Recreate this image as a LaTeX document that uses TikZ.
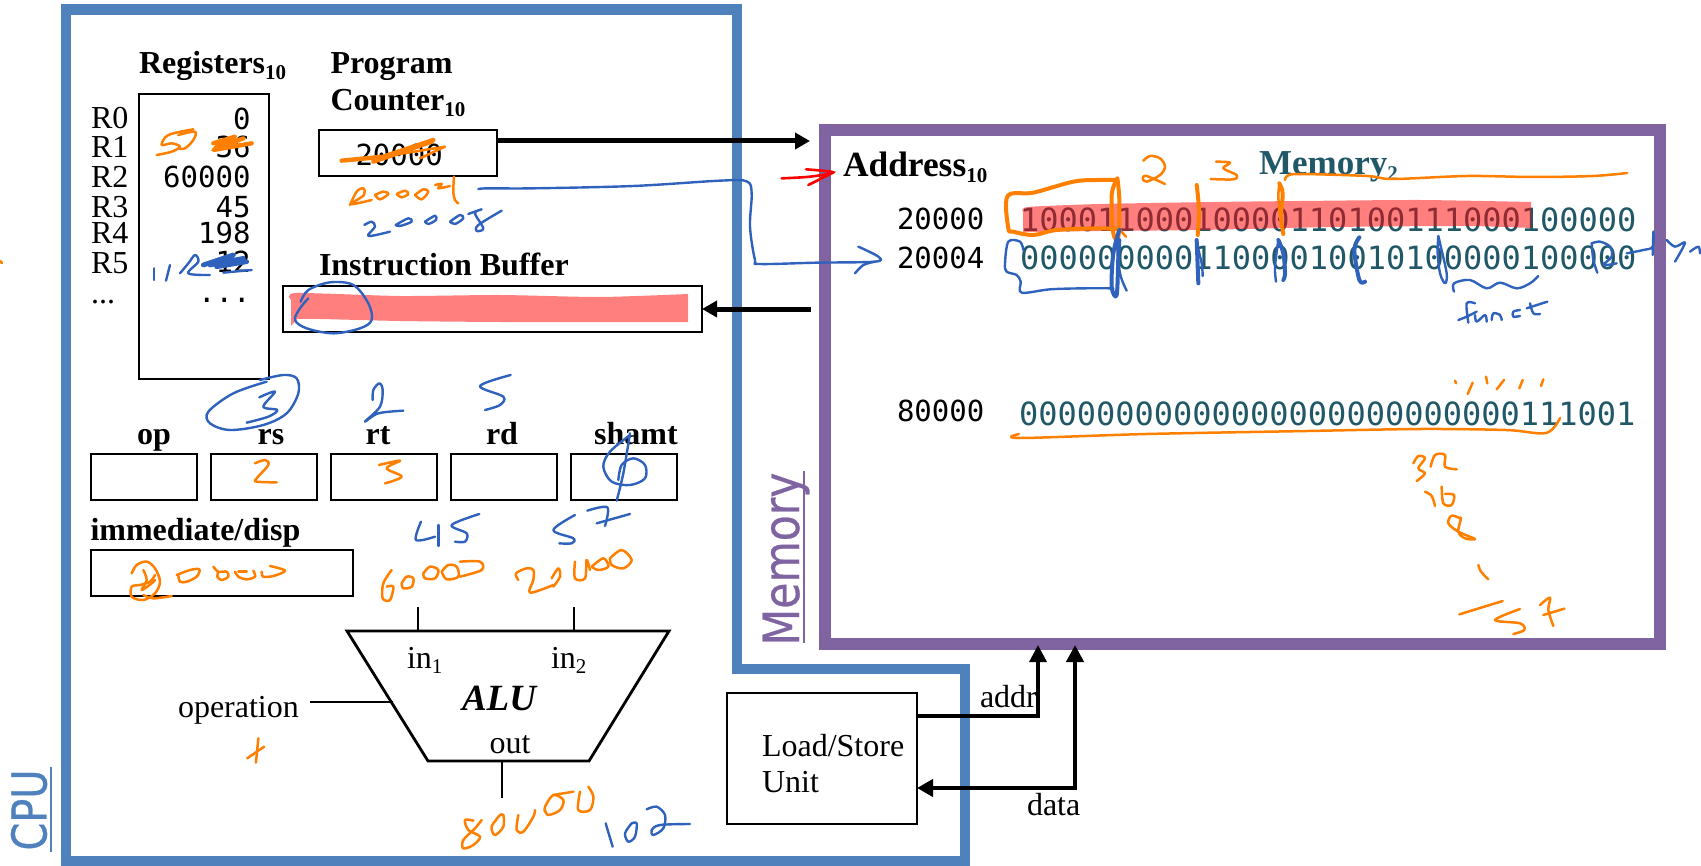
\documentclass[tikz,border=0pt]{standalone}
\usepackage{fontspec}
\usetikzlibrary{arrows.meta}
\setmainfont{Liberation Serif}
\setmonofont{DejaVu Sans Mono}
\setsansfont{DejaVu Sans}
\definecolor{cpublue}{HTML}{4F81BD}
\definecolor{mempurple}{HTML}{8064A2}
\definecolor{memteal}{HTML}{215868}
\definecolor{inkorange}{HTML}{FF7F00}
\definecolor{inkblue}{HTML}{2F62BC}
\newcommand{\subs}[1]{\raisebox{-0.35ex}{\fontsize{10.5}{12}\selectfont #1}}
\newcommand{\ink}[2]{\draw[#1] plot[smooth,tension=0.55] coordinates {#2};}
\tikzset{
  x=0.5pt,y=-0.5pt,
  frameline/.style={line width=5.2pt,line join=miter},
  box/.style={draw=black,line width=1.25pt,inner sep=0pt,outer sep=0pt,fill=none},
  txt/.style={inner sep=0pt,outer sep=0pt,font=\fontsize{16}{18}\selectfont,anchor=base west},
  head/.style={txt,font=\fontsize{16}{18}\selectfont\bfseries},
  headc/.style={head,anchor=base},
  addr/.style={inner sep=0pt,outer sep=0pt,font=\fontsize{14.5}{16}\selectfont\ttfamily,anchor=base west},
  regval/.style={addr,anchor=base east},
  bits/.style={inner sep=0pt,outer sep=0pt,text=memteal,font=\fontsize{16}{18}\selectfont\ttfamily,anchor=base west},
  bigarrow/.style={line width=2.5pt,-{Triangle[length=7.5pt,width=8pt]}},
  oi/.style={draw=inkorange,line width=1.25pt,line cap=round,line join=round},
  bi/.style={draw=inkblue,line width=1.2pt,line cap=round,line join=round},
  oit/.style={oi,line width=2pt},
  bit/.style={bi,line width=2pt},
  zoomed/.style={shift={#1},scale=1/3}
}
\begin{document}
\begin{tikzpicture}
\useasboundingbox (0,0) rectangle (1701,866);
% frames
\draw[frameline,draw=cpublue] (66,9.5) -- (737,9.5) -- (737,669) -- (965,669) -- (965,861) -- (66,861) -- cycle;
\draw[frameline,draw=mempurple,line width=5.8pt] (825,130) rectangle (1660,644);
\node[rotate=90,inner sep=0pt,outer sep=0pt,text=cpublue,font=\fontsize{24}{26}\selectfont\sffamily\addfontfeature{FakeBold=0.6}] (cpulabel) at (29,810) {\scalebox{0.83}[1]{CPU}};
\draw[cpublue,line width=0.8pt] (51,767) -- (51,852);
\node[rotate=90,inner sep=0pt,outer sep=0pt,text=mempurple,font=\fontsize{25}{27}\selectfont\sffamily\addfontfeature{FakeBold=0.6},anchor=base] (memlabel) at (799,559) {\scalebox{0.85}[1]{Memory}};
\draw[mempurple,line width=0.8pt] (804,471) -- (804,643);
% registers
\node[head] (regtitle) at (139,74) {Registers\subs{10}};
\node[box,minimum width=65pt,minimum height=142.5pt] (regs) at (204,236.5) {};
\node[txt] (r0) at (91,129) {R0};
\node[txt] (r1) at (91,158) {R1};
\node[txt] (r2) at (91,188) {R2};
\node[txt] (r3) at (91,218) {R3};
\node[txt] (r4) at (91,243) {R4};
\node[txt] (r5) at (91,273) {R5};
\node[txt] (rd) at (91,303) {...};
\node[regval] (v0) at (250.5,130) {0};
\node[regval] (v1) at (250.5,158) {36};
\node[regval] (v2) at (250.5,188) {60000};
\node[regval] (v3) at (250.5,218) {45};
\node[regval] (v4) at (250.5,243) {198};
\node[regval] (v5) at (250.5,272) {12};
\node[regval] (vd) at (250.5,302) {...};
% program counter
\node[head,font=\fontsize{16}{18.5}\selectfont\bfseries,anchor=north west,align=left] (pctitle) at (330.5,53) {Program\\Counter\subs{10}};
\node[box,minimum width=89pt,minimum height=23pt] (pc) at (408,153) {};
\node[addr] (pcval) at (355.5,166) {20000};
\coordinate (pcout) at (497,141);
\coordinate (memin) at (810,141);
\draw[bigarrow] (pcout) -- (memin);
% instruction buffer
\node[head] (ibtitle) at (319,276) {Instruction Buffer};
\node[box,minimum width=209.5pt,minimum height=23pt] (ib) at (492.5,309) {};
\coordinate (memout) at (811,309);
\draw[bigarrow] (memout) -- (ib.east);
\fill[red,opacity=0.5] plot[smooth,tension=0.4] coordinates {(291,300)(296,293)(400,296)(500,295)(600,297)(688,294)} -- (688,322) -- plot[smooth,tension=0.4] coordinates {(688,322)(610,322)(500,322)(400,321)(320,319)(297,319)} -- (291,326) -- cycle;
% fields
\node[headc] (oplab) at (154,444) {op};
\node[headc] (rslab) at (271,444) {rs};
\node[headc] (rtlab) at (378,444) {rt};
\node[headc] (rdlab) at (502,444) {rd};
\node[headc] (shlab) at (636,444) {shamt};
\node[box,minimum width=53pt,minimum height=23pt] (op) at (144,477) {};
\node[box,minimum width=53pt,minimum height=23pt] (rs) at (264,477) {};
\node[box,minimum width=53pt,minimum height=23pt] (rt) at (384,477) {};
\node[box,minimum width=53pt,minimum height=23pt] (rdbox) at (504,477) {};
\node[box,minimum width=53pt,minimum height=23pt] (sh) at (624,477) {};
\node[head] (immlab) at (90.5,540) {immediate/disp};
\node[box,minimum width=131pt,minimum height=23pt] (imm) at (222,573) {};
% ALU
\draw[box,line width=1.4pt,line join=miter] (347,631) coordinate (alutl) -- (669,631) coordinate (alutr) -- (589,761) coordinate (alubr) -- (428,761) coordinate (alubl) -- cycle;
\coordinate (ina) at (418,607); \coordinate (inaa) at (418,631);
\coordinate (inb) at (574,607); \coordinate (inbb) at (574,631);
\coordinate (outa) at (502,761); \coordinate (outb) at (502,798);
\coordinate (opa) at (310,702); \coordinate (opb) at (393,702);
\draw[line width=1.2pt] (ina) -- (inaa);
\draw[line width=1.2pt] (inb) -- (inbb);
\draw[line width=1.2pt] (outa) -- (outb);
\draw[line width=1.4pt] (opa) -- (opb);
\node[txt] (in1) at (407,668) {in\subs{1}};
\node[txt] (in2) at (551,668) {in\subs{2}};
\node[txt,anchor=base,font=\fontsize{18.5}{20}\selectfont\bfseries\itshape] (alu) at (499,710) {ALU};
\node[txt,anchor=base] (outlab) at (510,753) {out};
\node[txt] (oplabel) at (178,717) {operation};
% memory texts
\node[txt,font=\fontsize{17.7}{20}\selectfont\bfseries] (addrt) at (843,177) {Address\subs{10}};
\node[txt,font=\fontsize{17.5}{20}\selectfont\bfseries,text=memteal] (memt) at (1259,175) {Memory\subs{2}};
\node[addr] (a1) at (897,230) {20000};
\node[addr] (a2) at (897,269) {20004};
\node[addr] (a3) at (897,421) {80000};
\node[bits] (m1) at (1020,232) {10001100010000110100111000100000};
\node[bits] (m2) at (1020,270) {00000000011000010010100000100000};
\node[bits] (m3) at (1019,425) {00000000000000000000000000111001};
\fill[red,opacity=0.5] plot[smooth,tension=0.4] coordinates {(1023,212)(1028,207)(1100,204)(1213,202)(1300,201)(1420,200)(1531,202)} -- (1531,228) -- plot[smooth,tension=0.4] coordinates {(1531,228)(1467,226)(1333,227)(1200,230)(1100,231)(1023,232)} -- cycle;
% load store
\node[box,line width=1pt,minimum width=95pt,minimum height=65.5pt] (lsu) at (822,758.5) {};
\node[txt,anchor=north west,align=left] (lsut) at (762,734) {Load/Store\\Unit};
\coordinate (addrtip) at (1038,645);
\coordinate (datatip) at (1075,645);
\draw[line width=1.6pt,-{Triangle[length=8.5pt,width=8.5pt]},line join=miter] (lsu.east |- 0,716) -- (1038,716) -- (addrtip);
\draw[line width=2.2pt,{Triangle[length=8pt,width=8.5pt]}-{Triangle[length=8.5pt,width=8.5pt]},line join=miter] (lsu.east |- 0,788) -- (1075,788) -- (datatip);
\node[txt] (addrl) at (980,707) {addr};
\node[txt] (datal) at (1027,815) {data};
% ---------- handwriting ----------
\ink{oi}{(0,261)(2,263)}
\begin{scope}[zoomed={(130,120)}]
 \ink{oi}{(80,105)(125,95)(150,80)(125,70)(95,75)(115,45)(190,28)}
 \ink{oi}{(145,45)(195,35)(190,60)(165,85)(145,85)}
 \draw[oit,line width=2.2pt] (250,70) -- (315,50) -- (255,85) -- (340,55) -- (250,90) -- (365,70);
 \draw[oit,line width=2.2pt] (635,122) -- (760,110) -- (910,60) -- (730,125) -- (905,65);
 \draw[oi] (760,110) -- (945,80) -- (870,115);
 \ink{oi}{(660,255)(680,215)(700,205)(702,225)(665,252)(725,240)}
 \ink{oi}{(735,225)(760,215)(775,222)(750,238)(735,225)}
 \ink{oi}{(800,222)(825,212)(835,222)(815,232)(800,222)}
 \ink{oi}{(855,225)(880,208)(895,215)(875,238)(855,225)}
 \ink{oi}{(915,195)(935,192)(925,205)(960,198)}
 \ink{oi}{(972,170)(970,215)(975,240)(985,250)}
 \ink{bi}{(703,315)(725,305)(735,320)(715,348)(780,335)}
 \ink{bi}{(797,315)(835,295)(845,305)(810,318)(797,315)}
 \ink{bi}{(885,305)(915,287)(918,300)(895,312)(885,305)}
 \ink{bi}{(960,305)(990,285)(1000,295)(975,312)(960,305)}
 \ink{bi}{(1015,282)(1055,268)(1035,280)(1060,325)(1040,333)(1045,315)(1115,272)}
 \ink{bi}{(72,445)(72,480)}
 \ink{bi}{(120,435)(108,482)}
 \ink{bi}{(150,460)(175,430)(195,405)(205,425)(175,460)(240,465)}
 \draw[bit,line width=2.4pt] (220,435) -- (310,405) -- (240,435) -- (340,415) -- (260,440) -- (350,425);
 \draw[bi] (280,458) -- (365,450);
 \ink{bi}{(512,545)(535,510)(600,487)(670,495)(715,550)(725,600)(690,625)(610,640)(530,625)(495,600)(510,565)(535,535)}
\end{scope}
\begin{scope}[zoomed={(400,120)}]
 \ink{bi}{(235,207)(265,205)(400,205)(700,198)(960,182)(1040,184)(1055,220)(1050,320)(1065,420)(1080,432)(1250,428)(1425,425)(1435,410)(1375,380)}
 \ink{bi}{(1425,425)(1390,435)(1365,460)}
 \ink{draw=red,line width=1.3pt,line cap=round}{(1145,175)(1230,170)(1300,157)(1218,148)}
 \ink{draw=red,line width=1.3pt,line cap=round}{(1300,157)(1265,175)(1225,195)}
\end{scope}
\begin{scope}[zoomed={(190,370)}]
 \ink{bi}{(230,35)(130,70)(55,125)(60,160)(120,180)(220,165)(290,130)(325,70)(320,25)(280,15)(210,30)}
 \ink{bi}{(208,82)(255,65)(220,110)(262,120)(235,140)(170,158)}
 \ink{bi}{(548,90)(550,60)(568,40)(578,60)(570,110)(525,155)(565,130)(640,122)}
 \ink{bi}{(962,15)(870,48)(940,80)(930,105)(885,120)}
 \ink{oi}{(195,280)(225,270)(235,285)(200,325)(200,335)(260,337)}
 \ink{oi}{(567,285)(630,272)(590,295)(635,320)(585,340)}
 \ink{bi}{(1320,195)(1260,245)(1240,290)(1265,335)(1320,345)(1365,325)(1365,285)(1330,265)(1295,285)(1285,330)}
 \ink{bi}{(1320,190)(1300,310)(1280,392)}
 \ink{bi}{(693,455)(678,510)(735,500)}
 \ink{bi}{(745,465)(745,528)}
 \ink{bi}{(868,432)(785,465)(830,490)(825,515)(795,515)}
 \ink{bi}{(1155,435)(1090,480)(1150,505)(1145,520)(1108,520)}
 \ink{bi}{(1192,422)(1252,412)(1245,468)}
 \ink{bi}{(1220,460)(1320,432)}
 \ink{oi}{(605,600)(580,640)(578,685)(600,690)(610,650)(590,650)}
 \ink{oi}{(635,640)(650,620)(670,625)(665,650)(640,655)(635,640)}
 \ink{oi}{(700,610)(720,590)(745,600)(735,625)(705,625)(700,610)}
 \ink{oi}{(755,605)(775,585)(800,590)(805,620)(770,628)(755,605)}
 \ink{oi}{(810,575)(870,575)(875,600)(810,620)}
 \ink{oi}{(985,630)(978,610)(1010,595)(1030,600)(1030,630)(1020,668)(1090,645)}
 \ink{oi}{(1085,625)(1105,595)(1110,620)(1090,650)}
 \ink{oi}{(1155,575)(1155,625)(1185,625)(1190,570)(1200,600)}
 \ink{oi}{(1205,590)(1240,565)(1255,590)(1225,600)(1205,590)}
 \ink{oi}{(1260,565)(1295,540)(1325,570)(1300,595)(1265,585)(1260,565)}
\end{scope}
\begin{scope}[zoomed={(110,540)}]
 \ink{oi}{(65,100)(80,75)(110,65)(135,85)(150,125)(135,160)(100,180)(65,170)(65,140)(90,135)(120,125)(135,105)}
 \ink{oi}{(100,90)(110,120)(95,150)(125,130)(135,120)}
 \ink{oi}{(100,165)(130,175)(185,168)}
 \ink{oi}{(200,105)(240,90)(268,88)(260,110)(230,125)(210,125)(205,105)}
 \ink{oi}{(310,80)(325,95)(350,95)(355,110)(335,120)(322,110)(325,95)}
 \ink{oi}{(375,95)(385,110)(410,118)(435,110)(430,92)}
 \ink{oi}{(385,95)(410,95)}
 \ink{oi}{(455,95)(460,110)(490,108)(525,92)(480,78)}
\end{scope}
\begin{scope}[shift={(0,370)},xscale=0.4847,yscale=1/3]
 \ink{oi}{(510,1165)(545,1130)}
 \ink{oi}{(533,1105)(528,1178)}
\end{scope}
\begin{scope}[zoomed={(420,780)}]
 \ink{oi}{(160,122)(135,120)(145,150)(180,170)(160,195)(130,205)(130,180)(165,145)(185,120)}
 \ink{oi}{(240,105)(215,140)(225,165)(250,140)(250,105)(240,105)}
 \ink{oi}{(295,105)(290,150)(310,155)(340,110)(345,90)}
 \ink{oi}{(375,90)(385,105)(420,90)(430,60)(400,45)(375,80)(375,95)}
 \ink{oi}{(400,45)(460,35)}
 \ink{oi}{(480,35)(475,90)(510,90)(520,50)(505,20)}
 \ink{bi}{(557,130)(578,200)}
 \ink{bi}{(635,130)(615,160)(625,185)(645,170)(650,130)(635,130)}
 \ink{bi}{(680,88)(710,80)(735,105)(730,145)(700,165)(695,150)(720,135)(810,132)}
\end{scope}
\begin{scope}[zoomed={(1380,370)}]
 \ink{oi}{(225,32)(228,40)}
 \ink{oi}{(278,38)(263,72)}
 \ink{oi}{(318,20)(322,40)}
 \ink{oi}{(372,30)(350,58)}
 \ink{oi}{(428,30)(418,55)}
 \ink{oi}{(490,28)(483,48)}
 \ink{oi}{(100,280)(115,258)(135,265)(115,295)(135,310)(110,333)}
 \ink{oi}{(152,290)(165,255)(195,255)(195,290)(230,298)}
 \ink{oi}{(135,365)(155,378)(165,408)}
 \ink{oi}{(185,350)(190,400)(215,405)(222,375)(195,372)}
 \ink{oi}{(240,445)(215,437)(205,460)(235,485)(285,507)(255,505)(235,485)(243,445)(240,445)}
 \ink{oi}{(295,585)(303,605)(325,628)}
 \ink{oi}{(238,733)(368,693)}
 \ink{oi}{(420,717)(345,750)(420,760)(433,780)(400,792)}
 \ink{oi}{(480,705)(510,683)(505,720)(520,768)}
 \ink{oi}{(490,735)(553,716)}
\end{scope}
\ink{oi}{(1019,434)(1020,438)(1147,434)(1307,431)(1420,429)(1506,430)(1546,433)(1560,418)}
\ink{oi}{(1285,180)(1287,176)(1300,174)(1367,176)(1393,179)(1467,176)(1533,177)(1593,176)(1627,173)}
\begin{scope}[zoomed={(1000,140)}]
 \ink{oit}{(352,120)(290,120)(220,125)(100,158)(23,168)(25,265)(40,275)(100,285)(170,270)(300,265)(350,268)}
 \ink{oit}{(352,115)(335,165)(340,280)(355,290)(358,180)(352,115)}
 \ink{oi}{(360,270)(378,290)}
 \ink{oit}{(590,135)(597,210)(593,285)}
 \ink{oit}{(838,130)(848,160)(843,230)(850,282)}
 \ink{oi}{(838,130)(835,170)(840,230)}
 \ink{oi}{(430,62)(450,48)(480,55)(495,80)(480,105)(440,125)(428,115)(440,108)(495,132)}
 \ink{oi}{(648,65)(690,68)(670,85)(710,105)(700,118)(632,117)}
 \ink{bi}{(340,445)(250,445)(150,448)(65,458)(62,425)(50,405)(20,395)(15,370)(25,305)(60,305)(70,330)}
 \ink{bit}{(358,270)(340,340)(335,440)(350,465)(355,350)(358,300)}
 \ink{bi}{(350,300)(360,400)(380,452)}
 \ink{bit}{(590,300)(595,430)}
 \ink{bi}{(590,310)(605,370)(608,408)}
 \ink{bi}{(835,300)(825,380)(828,425)}
 \ink{bit}{(835,300)(850,340)(855,400)(850,420)}
\end{scope}
\begin{scope}[zoomed={(1300,140)}]
 \ink{bit}{(178,292)(163,330)(178,420)(195,425)}
 \ink{bi}{(415,288)(420,310)(440,400)(435,430)(420,400)(413,340)(415,288)}
 \ink{bi}{(462,455)(462,430)(510,420)(560,445)(600,428)(650,445)(690,430)(715,408)}
 \ink{bi}{(475,540)(500,530)(530,515)}
 \ink{bi}{(525,490)(500,490)(505,548)}
 \ink{bi}{(525,525)(530,545)(555,525)(560,545)}
 \ink{bi}{(575,540)(580,520)(600,525)(605,540)}
 \ink{bi}{(660,510)(640,515)(640,530)(660,528)}
 \ink{bi}{(690,490)(700,520)(720,522)}
 \ink{bi}{(680,505)(742,485)}
 \ink{bi}{(875,310)(900,305)(930,320)(935,350)(910,375)(950,370)}
 \ink{bi}{(875,310)(880,360)(892,398)}
 \ink{bi}{(980,340)(1030,330)(1058,320)(1060,275)(1058,345)}
 \ink{bi}{(1100,300)(1125,320)(1155,308)(1125,365)}
 \ink{bi}{(1170,335)(1195,320)(1200,340)}
\end{scope}
\end{tikzpicture}
\end{document}
